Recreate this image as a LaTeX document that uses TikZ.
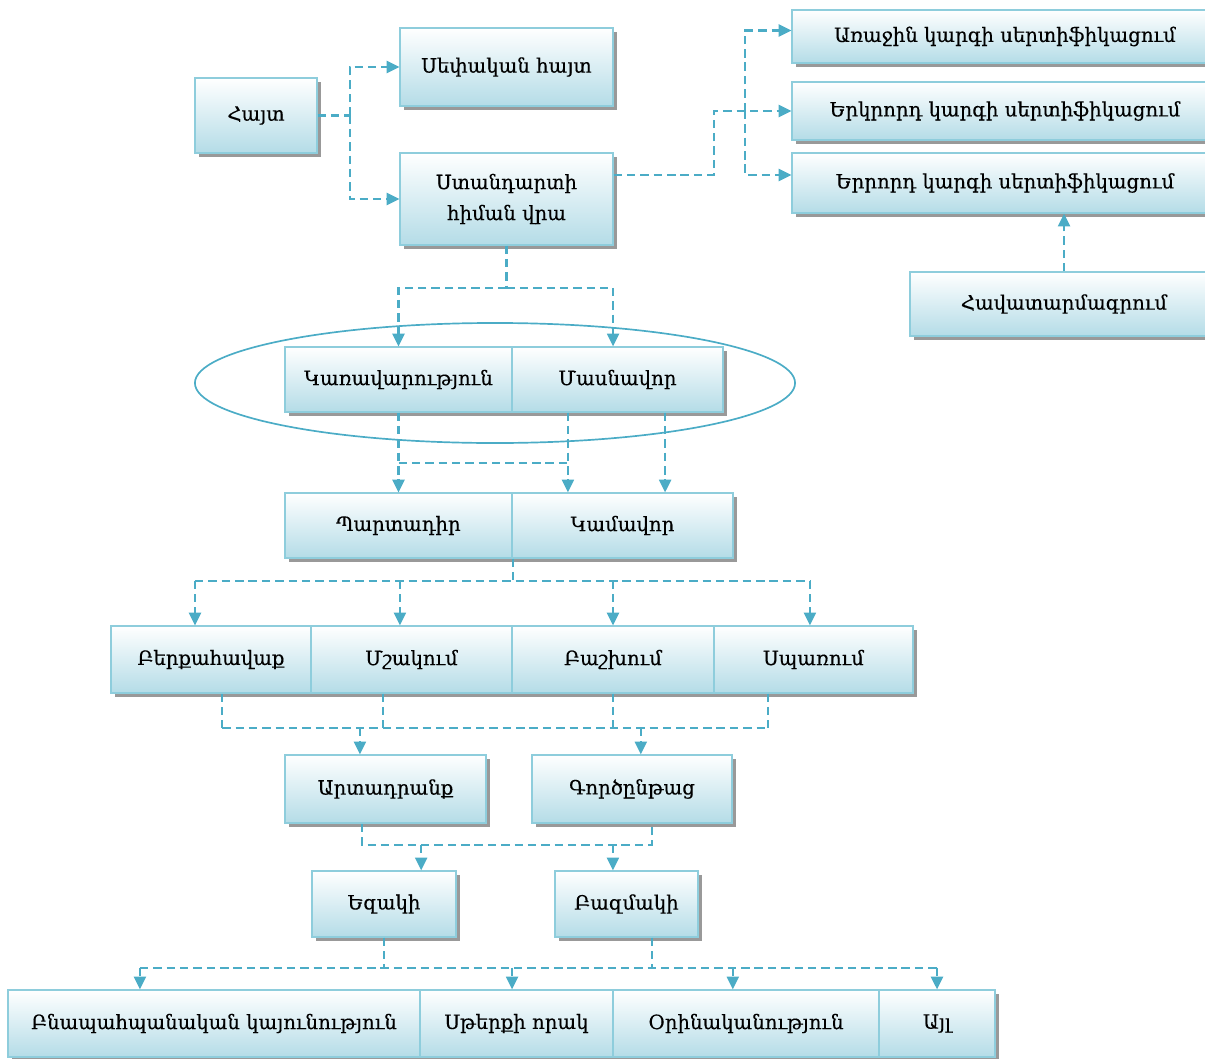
\documentclass[tikz,border=0pt]{standalone}
\usepackage{fontspec}
\setmainfont{DejaVu Serif}
\newfontfamily\boxfont{DejaVu Serif}[FakeBold=0.3]
\usetikzlibrary{arrows.meta,shadows}
\definecolor{boxline}{HTML}{8ECDDC}
\definecolor{boxfill}{HTML}{B4DCE7}
\definecolor{linkblue}{HTML}{4BACC6}

\begin{document}
\begin{tikzpicture}
[
x=0.025cm, y=-0.025cm,
box/.style={draw=boxline, line width=0.9pt, top color=white, bottom color=boxfill,
  font=\boxfont\fontsize{14}{22}\selectfont, align=center, inner sep=2pt,
  drop shadow={shadow xshift=0.09cm, shadow yshift=-0.09cm, fill=black!40, opacity=1}},
cellsize/.style 2 args={minimum width=#1*0.025cm, minimum height=#2*0.025cm},
conn/.style={draw=linkblue, line width=1.5pt, dash pattern=on 6pt off 3.5pt},
link/.style={conn, -{Triangle[width=8.5pt,length=9pt]}},
ring/.style={draw=linkblue, line width=1.2pt}
]
\useasboundingbox (0,0) rectangle (1205,1059);

% top part
\node[box, cellsize={122}{75}] (hayt) at (256,115.5) {Հայտ};
\node[box, cellsize={213}{78}] (sepakan) at (506.5,67) {Սեփական հայտ};
\node[box, cellsize={213}{92}] (standard) at (506.5,199) {Ստանդարտի\\հիման վրա};
\node[box, cellsize={426}{53}] (kasr1) at (1005,36.5) {Առաջին կարգի սերտիֆիկացում};
\node[box, cellsize={426}{58}] (kasr2) at (1005,111) {Երկրորդ կարգի սերտիֆիկացում};
\node[box, cellsize={426}{60}] (kasr3) at (1005,183) {Երրորդ կարգի սերտիֆիկացում};
\node[box, cellsize={308}{64}] (havat) at (1064,304) {Հավատարմագրում};

% ellipse with the two owners
\draw[ring] (495,383) ellipse [x radius=7.5cm, y radius=1.5cm];
\node[box, cellsize={227}{65}] (karav) at (398.5,379.5) {Կառավարություն};
\node[box, cellsize={211}{65}] (masn) at (617.5,379.5) {Մասնավոր};

\node[box, cellsize={227}{65}] (part) at (398.5,525.5) {Պարտադիր};
\node[box, cellsize={221}{65}] (kam) at (622.5,525.5) {Կամավոր};

\node[box, cellsize={200}{67}] (berq) at (211,659.5) {Բերքահավաք};
\node[box, cellsize={201}{67}] (mshak) at (411.5,659.5) {Մշակում};
\node[box, cellsize={202}{67}] (bashx) at (613,659.5) {Բաշխում};
\node[box, cellsize={199}{67}] (spar) at (813.5,659.5) {Սպառում};

\node[box, cellsize={201}{68}] (artad) at (385.5,789) {Արտադրանք};
\node[box, cellsize={200}{68}] (gorc) at (632,789) {Գործընթաց};

\node[box, cellsize={144}{66}] (ezak) at (384,904) {Եզակի};
\node[box, cellsize={143}{66}] (bazm) at (626.5,904) {Բազմակի};

\node[box, cellsize={412}{67}] (bnap) at (214,1023.5) {Բնապահպանական կայունություն};
\node[box, cellsize={193}{67}] (berqor) at (516.5,1023.5) {Սթերքի որակ};
\node[box, cellsize={266}{67}] (orin) at (746,1023.5) {Օրինականություն};
\node[box, cellsize={116}{67}] (ayl) at (937,1023.5) {Այլ};

% connectors
\draw[conn] (hayt.east) -- ++(32,0) coordinate (hj);
\draw[link] (hj) |- (sepakan.west);
\draw[link] (hj) |- (standard.west);

\coordinate (st) at ([yshift=0.6cm]standard.east);
\coordinate (kj) at ([xshift=-1.15cm]kasr2.west);
\draw[link] (st) -- ++(100,0) |- (kasr2.west);
\draw[link] (kj) |- ([yshift=0.15cm]kasr1.west);
\draw[link] (kj) |- ([yshift=0.2cm]kasr3.west);
\draw[link] (havat.north) -- (havat.north |- kasr3.south);

\draw[conn] (standard.south) -- ++(0,42) coordinate (sj);
\draw[link] (sj) -| (karav.north);
\draw[link] (sj) -| ([xshift=-0.11cm]masn.north);

\coordinate (m1) at ([xshift=-1.24cm]masn.south);
\coordinate (m2) at ([xshift=1.19cm]masn.south);
\draw[link] (karav.south) -- (part.north);
\draw[link] (m1) -- (m1 |- kam.north);
\draw[link] (m2) -- (m2 |- kam.north);
\draw[conn] ([yshift=-1.25cm]karav.south) -- ([yshift=-1.25cm]m1);

% row 3 -> row 4
\coordinate (pk) at (part.south east);
\coordinate (b3) at ([yshift=-0.55cm]pk);
\coordinate (a1) at ([xshift=-0.4cm]berq.north);
\coordinate (a2) at ([xshift=-0.29cm]mshak.north);
\coordinate (a4) at ([xshift=-0.09cm]spar.north);
\draw[conn] (pk) -- (b3);
\draw[conn] (a1 |- b3) -- (a4 |- b3);
\foreach \t in {a1,a2,bashx.north,a4} \draw[link] (\t |- b3) -- (\t);

% row 4 -> row 5
\coordinate (s1) at ([xshift=0.28cm]berq.south);
\coordinate (s2) at ([xshift=-0.71cm]mshak.south);
\coordinate (s4) at ([xshift=-1.14cm]spar.south);
\coordinate (b4) at ([yshift=-0.85cm]s1);
\coordinate (a5) at ([xshift=-0.64cm]artad.north);
\coordinate (a6) at ([xshift=0.22cm]gorc.north);
\foreach \s in {s1,s2,bashx.south,s4} \draw[conn] (\s) -- (\s |- b4);
\draw[conn] (s1 |- b4) -- (s4 |- b4);
\foreach \t in {a5,a6} \draw[link] (\t |- b4) -- (\t);

% row 5 -> row 6
\coordinate (s5) at ([xshift=-0.59cm]artad.south);
\coordinate (s6) at ([xshift=0.5cm]gorc.south);
\coordinate (b5) at ([yshift=-0.525cm]s5);
\coordinate (a7) at ([xshift=0.93cm]ezak.north);
\coordinate (a8) at ([xshift=-0.34cm]bazm.north);
\draw[conn] (s5) |- (s6 |- b5) -- (s6);
\foreach \t in {a7,a8} \draw[link] (\t |- b5) -- (\t);

% row 6 -> row 7
\coordinate (s7) at ([xshift=0.64cm]bazm.south);
\coordinate (b6) at ([yshift=-0.75cm]ezak.south);
\coordinate (a9) at ([xshift=-1.85cm]bnap.north);
\coordinate (a10) at ([xshift=-0.11cm]berqor.north);
\coordinate (a11) at ([xshift=-0.33cm]orin.north);
\foreach \s in {ezak.south,s7} \draw[conn] (\s) -- (\s |- b6);
\draw[conn] (a9 |- b6) -- (ayl.north |- b6);
\foreach \t in {a9,a10,a11,ayl.north} \draw[link] (\t |- b6) -- (\t);
\end{tikzpicture}
\end{document}
